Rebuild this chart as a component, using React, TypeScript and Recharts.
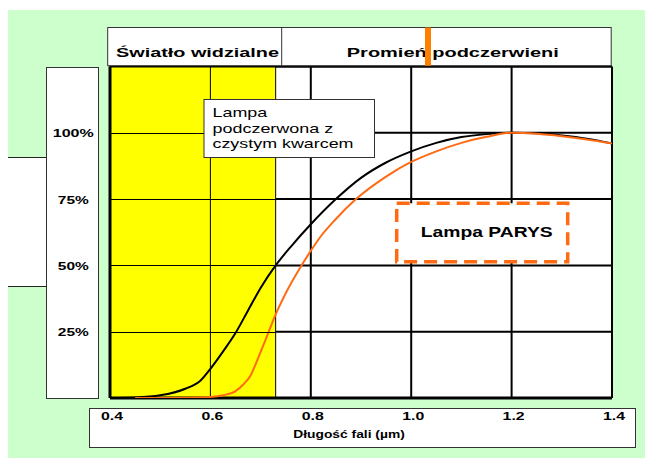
import React from "react";
import { LineChart, Line, XAxis, YAxis, CartesianGrid, ReferenceArea, ReferenceLine } from "recharts";

// ---- data ----
const X_TICKS = [0.4, 0.6, 0.8, 1.0, 1.2, 1.4];
const Y_TICKS = [0, 25, 50, 75, 100, 125];
const Y_LABELS = [25, 50, 75, 100];
const YELLOW_START = 0.4;
const YELLOW_END = 0.73;

const QUARTZ_X = [0.4, 0.45, 0.5, 0.55, 0.58, 0.6, 0.625, 0.65, 0.675, 0.7, 0.73, 0.76, 0.8, 0.85, 0.9, 0.95, 1.0, 1.05, 1.1, 1.15, 1.2, 1.25, 1.3, 1.35, 1.4];
const QUARTZ_Y = [0, 0.2, 1, 3.5, 6.5, 11, 17.5, 24.5, 33, 41.5, 50, 57, 65.5, 75, 83, 88.8, 93, 96.2, 98.4, 99.5, 100, 99.8, 99, 97.8, 96];

const PARYS_X = [0.45, 0.5, 0.55, 0.6, 0.625, 0.65, 0.665, 0.68, 0.695, 0.71, 0.73, 0.75, 0.78, 0.8, 0.82, 0.85, 0.89, 0.95, 1.0, 1.05, 1.1, 1.15, 1.2, 1.25, 1.3, 1.35, 1.4];
const PARYS_Y = [0, 0, 0.1, 0.4, 1, 2.6, 5, 8.5, 15, 22, 31.5, 39.5, 49.5, 55.5, 61, 67.5, 75, 83.5, 89, 93, 96.2, 98.5, 100, 99.6, 98.7, 97.5, 96];

const quartzData = QUARTZ_X.map((x, i) => ({ x, y: QUARTZ_Y[i] }));
const parysData = PARYS_X.map((x, i) => ({ x, y: PARYS_Y[i] }));

const FONT = '"Liberation Sans", Arial, sans-serif';
const ORANGE = "#ff6a13";

const W = 645;
const H = 459;
const M_TOP = 66.5;
const M_BOTTOM = 21;
const X_AXIS_H = 40;
const M_LEFT = 45;
const Y_AXIS_W = 65;
const M_RIGHT = 33;
const PLOT_LEFT = M_LEFT + Y_AXIS_W;
const PLOT_RIGHT = W - M_RIGHT;
const PLOT_TOP = M_TOP;
const PLOT_BOTTOM = H - M_BOTTOM - X_AXIS_H;
const sx = (v: number) => PLOT_LEFT + ((v - 0.4) / 1.0) * (PLOT_RIGHT - PLOT_LEFT);
const sy = (v: number) => PLOT_BOTTOM - (v / 125) * (PLOT_BOTTOM - PLOT_TOP);

function XTick(props: any) {
  const { x, payload } = props;
  return (
    <text x={x + 2} y={419.5} textAnchor="middle" fontFamily={FONT} fontSize={11} fontWeight="bold" fill="#000" textLength={22} lengthAdjust="spacingAndGlyphs">
      {Number(payload.value).toFixed(1)}
    </text>
  );
}

function YTick(props: any) {
  const { y, payload } = props;
  if (!Y_LABELS.includes(payload.value)) return null;
  const label = `${payload.value}%`;
  return (
    <text x={73.3} y={y + 4.5} textAnchor="middle" fontFamily={FONT} fontSize={11.5} fontWeight="bold" fill="#000" textLength={label.length === 4 ? 41 : 31} lengthAdjust="spacingAndGlyphs">
      {label}
    </text>
  );
}

function T(p: any) {
  const { x, y, w, size, bold, anchor, children } = p;
  return (
    <text x={x} y={y} fontFamily={FONT} fontSize={size} fontWeight={bold ? "bold" : "normal"} textAnchor={anchor || "start"} fill="#000" textLength={w} lengthAdjust="spacingAndGlyphs">
      {children}
    </text>
  );
}

export default function App() {
  return (
    <div style={{ position: "absolute", left: 0, top: 0, width: W, height: H, background: "#fff", overflow: "hidden" }}>
      <div style={{ position: "absolute", left: 8, top: 10, width: W - 8, height: 448, background: "#ccffcc" }} />
      <div style={{ position: "absolute", left: 8, top: 156.5, width: 37.5, height: 130, background: "#fff", borderTop: "1px solid #222", borderBottom: "1px solid #222", boxSizing: "border-box" }} />
      <div style={{ position: "absolute", left: 45.5, top: 67, width: 53.5, height: 332, background: "#fff", border: "1px solid #333", boxSizing: "border-box" }} />
      <div style={{ position: "absolute", left: 89, top: 408, width: 546.5, height: 40, background: "#fff", border: "1px solid #333", boxSizing: "border-box" }} />
      <div style={{ position: "absolute", left: 0, top: 0 }}>
        <LineChart width={W} height={H} margin={{ top: M_TOP, right: M_RIGHT, bottom: M_BOTTOM, left: M_LEFT }}>
          <CartesianGrid stroke="#000" strokeWidth={2} fill="#fff" fillOpacity={1} />
          <XAxis type="number" dataKey="x" domain={[0.4, 1.4]} ticks={X_TICKS} tick={<XTick />} tickLine={false} axisLine={false} height={X_AXIS_H} allowDataOverflow />
          <YAxis type="number" domain={[0, 125]} ticks={Y_TICKS} tick={<YTick />} tickLine={false} axisLine={false} width={Y_AXIS_W} allowDataOverflow />
          <ReferenceArea x1={YELLOW_START} x2={YELLOW_END} y1={0} y2={125} fill="#ffff00" fillOpacity={1} stroke="none" />
          <ReferenceLine x={0.6} stroke="#000" strokeWidth={1} />
          <ReferenceLine x={YELLOW_END} stroke="#000" strokeWidth={1} />
          <ReferenceLine y={125} stroke="#000" strokeWidth={2} />
          <ReferenceLine x={0.4} stroke="#000" strokeWidth={3} />
          <ReferenceLine y={0} stroke="#000" strokeWidth={3} />
          <Line data={quartzData} dataKey="y" type="monotone" stroke="#000" strokeWidth={2} dot={false} isAnimationActive={false} />
          <Line data={parysData} dataKey="y" type="monotone" stroke={ORANGE} strokeWidth={2} dot={false} isAnimationActive={false} />
        </LineChart>
      </div>
      <svg width={W} height={H} style={{ position: "absolute", left: 0, top: 0, pointerEvents: "none" }}>
        {/* thin grid lines across the yellow band */}
        {Y_LABELS.map((v) => (
          <line key={v} x1={sx(YELLOW_START)} x2={sx(YELLOW_END)} y1={Math.round(sy(v)) + 0.5} y2={Math.round(sy(v)) + 0.5} stroke="#000" strokeWidth={1} />
        ))}
        {/* header */}
        <rect x={107.7} y={27.5} width={503.5} height={38.2} fill="#fff" stroke="#333" strokeWidth={1} />
        <line x1={281.7} y1={27.5} x2={281.7} y2={65.7} stroke="#333" strokeWidth={1} />
        <T x={116} y={56.7} w={163} size={12} bold>Światło widzialne</T>
        <T x={346.8} y={56.7} w={212} size={12} bold>Promień podczerwieni</T>
        <rect x={425} y={27.5} width={6} height={38.2} fill="#ff7f00" />
        {/* quartz annotation */}
        <rect x={204} y={99.5} width={170.5} height={58} fill="#fff" stroke="#333" strokeWidth={1} />
        <T x={212.5} y={117.3} w={54.7} size={13}>Lampa</T>
        <T x={212.5} y={132.8} w={120.7} size={13}>podczerwona z</T>
        <T x={212.5} y={147.8} w={141} size={13}>czystym kwarcem</T>
        {/* PARYS annotation */}
        <rect x={396.7} y={203.3} width={171} height={58.4} fill="#fff" stroke={ORANGE} strokeWidth={3.5} strokeDasharray="13 7" />
        <T x={486.7} y={236.7} w={132} size={15} bold anchor="middle">Lampa PARYS</T>
        {/* x axis title */}
        <T x={349} y={438.3} w={111.5} size={11} bold anchor="middle">Długość fali (µm)</T>
      </svg>
    </div>
  );
}
